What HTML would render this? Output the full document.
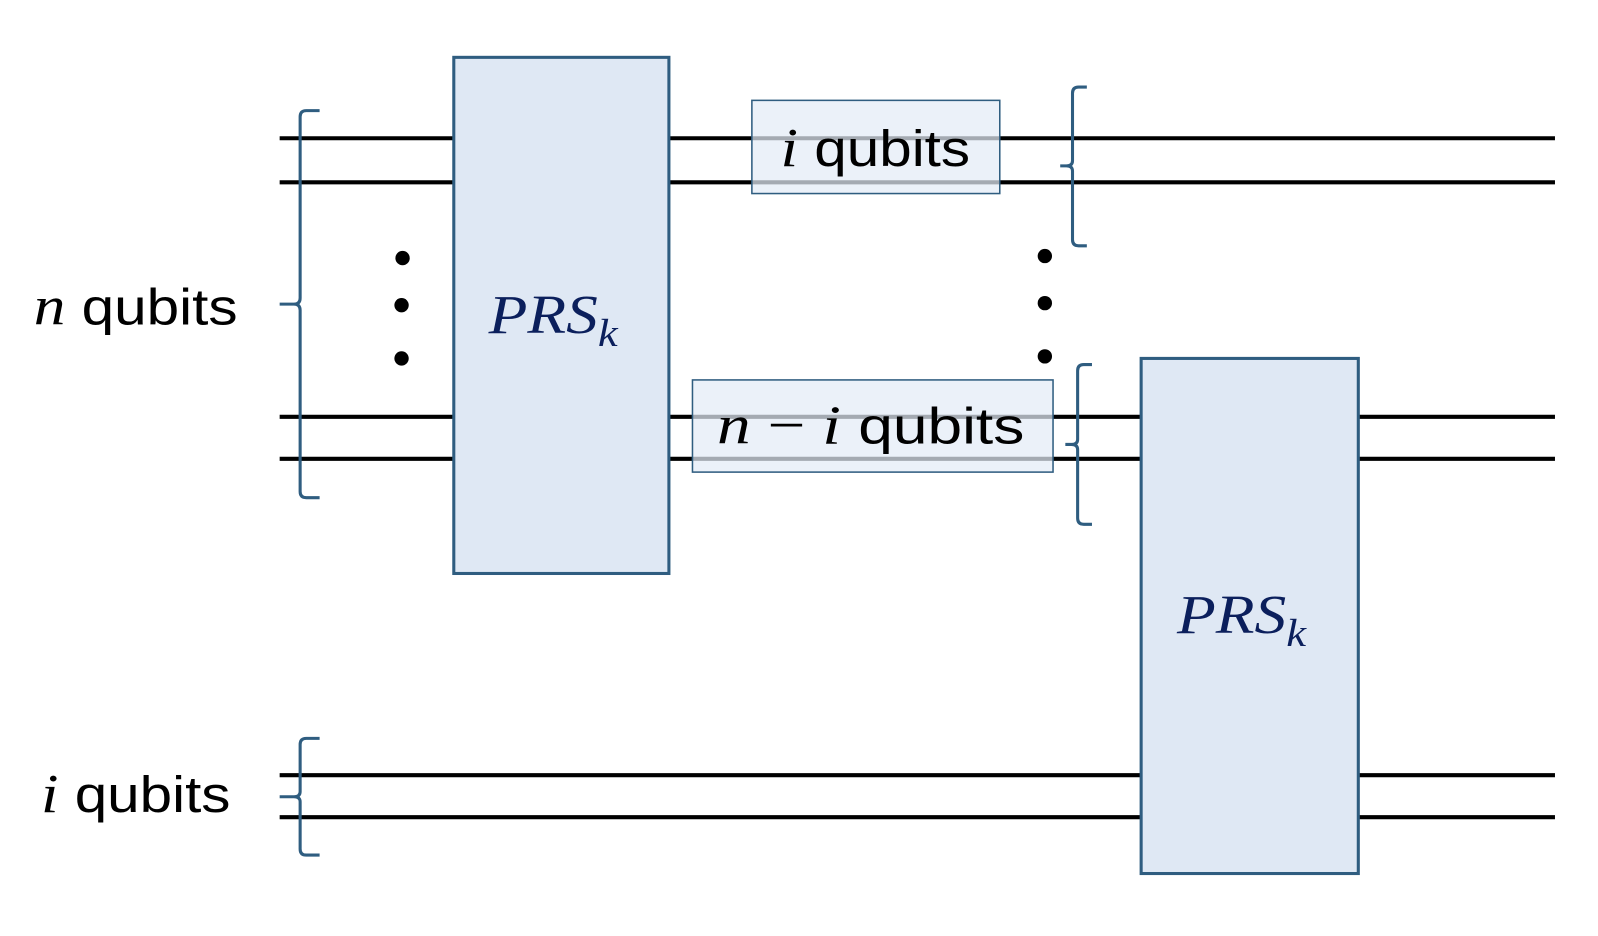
<!DOCTYPE html>
<html><head><meta charset="utf-8"><style>
html,body{margin:0;padding:0;background:#fff;}
svg{display:block;}
</style></head><body>
<svg width="1598" height="936" viewBox="0 0 1560 914" preserveAspectRatio="none" xmlns="http://www.w3.org/2000/svg">
<g stroke="#000" stroke-width="4">
<line x1="273" y1="135" x2="443" y2="135"/><line x1="273" y1="178" x2="443" y2="178"/>
<line x1="653" y1="135" x2="1518" y2="135"/><line x1="653" y1="178" x2="1518" y2="178"/>
<line x1="273" y1="407" x2="443" y2="407"/><line x1="273" y1="448" x2="443" y2="448"/>
<line x1="653" y1="407" x2="1114" y2="407"/><line x1="653" y1="448" x2="1114" y2="448"/>
<line x1="1326" y1="407" x2="1518" y2="407"/><line x1="1326" y1="448" x2="1518" y2="448"/>
<line x1="273" y1="757" x2="1114" y2="757"/><line x1="273" y1="798" x2="1114" y2="798"/>
<line x1="1326" y1="757" x2="1518" y2="757"/><line x1="1326" y1="798" x2="1518" y2="798"/>
</g>
<rect x="443" y="56" width="210" height="504" fill="#dfe8f4" stroke="#2f5d80" stroke-width="3"/>
<rect x="1114" y="350" width="212" height="503" fill="#dfe8f4" stroke="#2f5d80" stroke-width="3"/>
<rect x="734" y="98" width="242" height="91" fill="#e3ebf6" fill-opacity="0.72" stroke="#2f5d80" stroke-width="1.5"/>
<rect x="676" y="371" width="352" height="90" fill="#e3ebf6" fill-opacity="0.72" stroke="#2f5d80" stroke-width="1.5"/>
<g fill="none" stroke="#2f5d80" stroke-width="3">
<path d="M312,108 H299 Q293,108 293,114 V291 Q293,297 287,297 H273 M287,297 Q293,297 293,303 V480 Q293,486 299,486 H312"/>
<path d="M1061,85 H1053 Q1047,85 1047,91 V157 Q1047,162 1041,162 H1035 M1041,162 Q1047,162 1047,167 V234 Q1047,240 1053,240 H1061"/>
<path d="M1066,356 H1058 Q1052,356 1052,362 V429 Q1052,434 1046,434 H1040 M1046,434 Q1052,434 1052,439 V506 Q1052,512 1058,512 H1066"/>
<path d="M312,721 H299 Q293,721 293,727 V773 Q293,778 287,778 H273 M287,778 Q293,778 293,783 V829 Q293,835 299,835 H312"/>
</g>
<g fill="#000">
<circle cx="393" cy="252" r="7"/><circle cx="392" cy="298" r="7"/><circle cx="392" cy="350" r="7"/>
<circle cx="1020" cy="250" r="7"/><circle cx="1020" cy="296" r="7"/><circle cx="1020" cy="348" r="7"/>
</g>
<g font-family="Liberation Sans, sans-serif" font-size="50" fill="#000">
<text x="33" y="317" textLength="199" lengthAdjust="spacingAndGlyphs"><tspan font-family="Liberation Serif, serif" font-style="italic" font-size="54">n</tspan> qubits</text>
<text x="40" y="793" textLength="185" lengthAdjust="spacingAndGlyphs"><tspan font-family="Liberation Serif, serif" font-style="italic" font-size="54">i</tspan> qubits</text>
<text x="762" y="162" textLength="185" lengthAdjust="spacingAndGlyphs"><tspan font-family="Liberation Serif, serif" font-style="italic" font-size="54">i</tspan> qubits</text>
<text x="700" y="433" textLength="300" lengthAdjust="spacingAndGlyphs"><tspan font-family="Liberation Serif, serif" font-style="italic" font-size="54">n</tspan><tspan font-family="Liberation Serif, serif" font-size="54"> − </tspan><tspan font-family="Liberation Serif, serif" font-style="italic" font-size="54">i</tspan>  qubits</text>
</g>
<g font-family="Liberation Serif, serif" font-style="italic" fill="#0b1f5c">
<text x="477" y="325" font-size="54" textLength="126" lengthAdjust="spacingAndGlyphs">PRS<tspan font-size="38" dy="13">k</tspan></text>
<text x="1149" y="618" font-size="54" textLength="126" lengthAdjust="spacingAndGlyphs">PRS<tspan font-size="38" dy="13">k</tspan></text>
</g>
</svg>
</body></html>
